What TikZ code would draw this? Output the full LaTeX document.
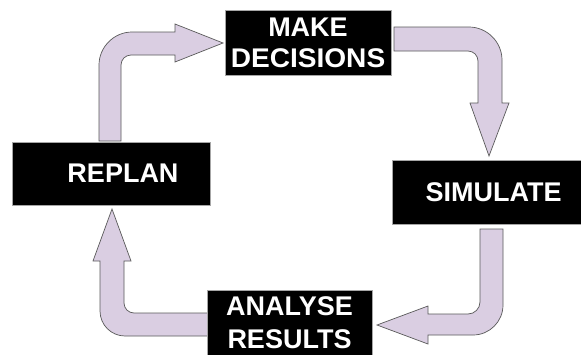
\documentclass[tikz,border=0pt]{standalone}
\usepackage{fontspec}
\setmainfont{Liberation Sans}
\begin{document}
\definecolor{arrowfill}{RGB}{218,206,226}
\definecolor{arrowline}{RGB}{90,90,90}
\begin{tikzpicture}[x=1pt,y=-1pt,
  blockarrow/.style={fill=arrowfill,draw=arrowline,line width=0.7pt,line join=miter},
  stage/.style={fill=black,draw=black!35,line width=0.6pt,text=white,
    font=\fontsize{27}{33}\selectfont\bfseries,align=center,inner sep=0pt,
    minimum width=#1},
  stage/.default=100pt]
\useasboundingbox (0,0) rectangle (581,354);
\fill[white] (0,0) rectangle (581,354);

% block arrow: replan -> decisions
\path[blockarrow] (99,141) -- (99,65) .. controls (99,47) and (114,32) .. (132,32)
  -- (175,32) -- (175,24) -- (223,43) -- (175,62) -- (175,55) -- (131,55)
  .. controls (125.5,55) and (121,59.5) .. (121,65) -- (121,141) -- cycle;

% block arrow: decisions -> simulate
\path[blockarrow] (394,27) -- (469,27) .. controls (487,27) and (502,42) .. (502,60)
  -- (502,103) -- (509,103) -- (489,156) -- (470,103) -- (478,103) -- (478,61)
  .. controls (478,55.5) and (473.5,51) .. (468,51) -- (394,51) -- cycle;

% block arrow: simulate -> analyse
\path[blockarrow] (480,229) -- (480,302) .. controls (480,308.6) and (474.6,314) .. (468,314)
  -- (428,314) -- (428,306) -- (377,325) -- (428,344) -- (428,335) -- (473,335)
  .. controls (489.6,335) and (503,321.6) .. (503,305) -- (503,229) -- cycle;

% block arrow: analyse -> replan
\path[blockarrow] (210,313) -- (134,313) .. controls (128.5,313) and (124,308.5) .. (124,303)
  -- (124,261) -- (131,261) -- (112,209) -- (93,261) -- (100,261) -- (100,311)
  .. controls (100,324.8) and (111.2,336) .. (125,336) -- (210,336) -- cycle;

% stage boxes
\node[stage=166pt,minimum height=65pt,font=\fontsize{27}{31}\selectfont\bfseries]
  (decide) at (308,42.5) {MAKE\\\scalebox{1.04}[1]{DECISIONS}};
\node[stage=198pt,minimum height=63pt] (replan) at (111,173.5) {\hspace*{24pt}REPLAN};
\node[stage=190pt,minimum height=64pt] (simulate) at (487,192) {\hspace*{13pt}SIMULATE};
\node[stage=165pt,minimum height=66pt] (analyse) at (289.5,323) {ANALYSE\\RESULTS};
\end{tikzpicture}
\end{document}
